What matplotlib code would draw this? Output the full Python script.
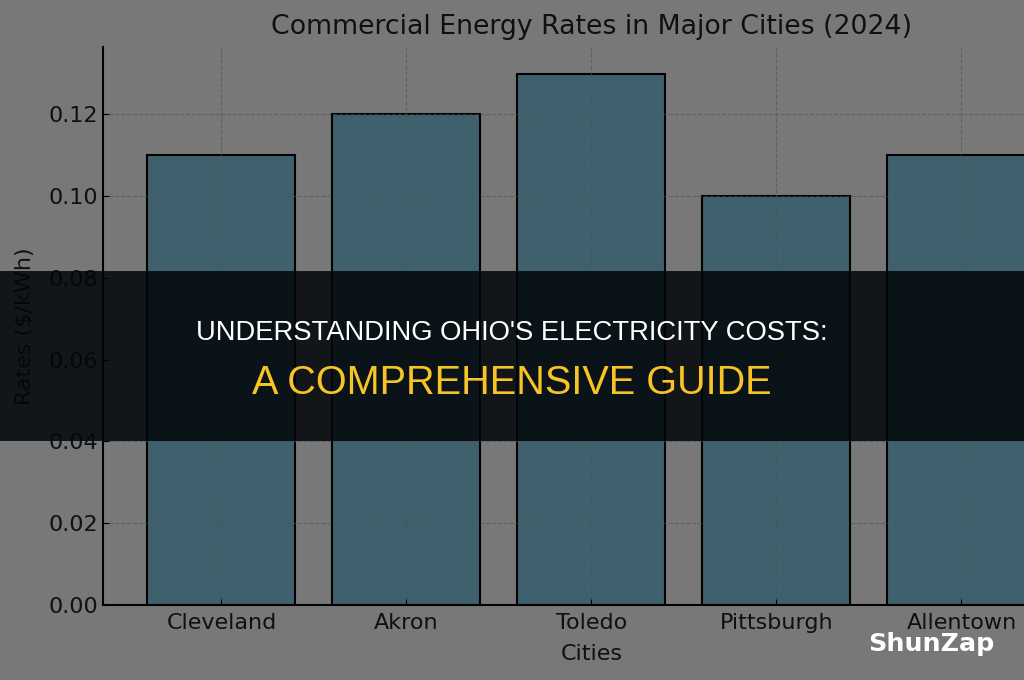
import matplotlib.pyplot as plt
from matplotlib.patches import Rectangle

# Data
cities = ['Cleveland', 'Akron', 'Toledo', 'Pittsburgh', 'Allentown']
rates = [0.11, 0.12, 0.13, 0.10, 0.11]
yticks = [0.00, 0.02, 0.04, 0.06, 0.08, 0.10, 0.12]

headline = "UNDERSTANDING OHIO'S ELECTRICITY COSTS:"
subline = "A COMPREHENSIVE GUIDE"
brand = "ShunZap"

fig = plt.figure(figsize=(10.24, 6.8), dpi=100)
fig.patch.set_facecolor('white')

# axes runs past the right edge of the image (cropped chart)
ax = fig.add_axes([0.1006, 0.1103, 0.954, 0.8206])
ax.bar(cities, rates, width=0.8, color='skyblue', edgecolor='black', linewidth=1.5)
ax.set_yticks(yticks)
ax.set_yticklabels([f'{v:.2f}' for v in yticks])
ax.set_title('Commercial Energy Rates in Major Cities (2024)', fontsize=19.3, pad=9,
             color='#222222')
ax.set_xlabel('Cities', fontsize=16, labelpad=8, color='#222222')
ax.set_ylabel('Rates ($/kWh)', fontsize=16, labelpad=10, color='#222222')
ax.tick_params(axis='both', direction='in', labelsize=16, length=4, labelcolor='#222222')
ax.tick_params(axis='x', pad=6)
ax.grid(True, linestyle='--', color='#aaaaaa', alpha=0.6)
ax.spines['top'].set_visible(False)
ax.spines['right'].set_visible(False)
ax.spines['left'].set_linewidth(1.5)
ax.spines['bottom'].set_linewidth(1.5)

# darkening overlay over the whole picture
fig.add_artist(Rectangle((0, 0), 1, 1, transform=fig.transFigure,
                         facecolor='black', alpha=0.53, zorder=10))
# dark banner across the middle
fig.add_artist(Rectangle((0, 1 - 441 / 680), 1, 170 / 680, transform=fig.transFigure,
                         facecolor='#02060a', alpha=0.86, zorder=11))

fig.text(0.5, 1 - 333 / 680, headline, ha='center', va='center', color='white',
         fontsize=19.7, family='Liberation Sans', zorder=12)
fig.text(0.5, 1 - 383 / 680, subline, ha='center', va='center', color='#f7c325',
         fontsize=28.5, family='Liberation Sans', fontweight='medium', zorder=12)
fig.text(931 / 1024, 1 - 644 / 680, brand, ha='center', va='center', color='white',
         fontsize=18.3, fontweight='bold', family='DejaVu Sans', zorder=12)

fig.savefig('out.png', dpi=100)
